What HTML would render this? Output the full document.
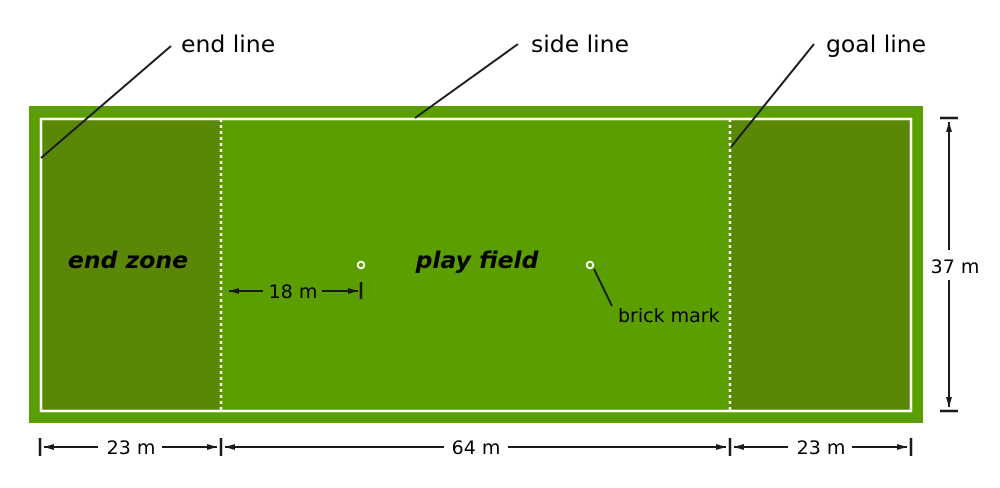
<!DOCTYPE html>
<html><head><style>html,body{margin:0;padding:0;background:#fff}</style></head>
<body>
<svg width="1000" height="483" viewBox="0 0 1000 483" xmlns="http://www.w3.org/2000/svg" font-family="DejaVu Sans, Liberation Sans, sans-serif">
<defs>
<marker id="a" viewBox="0 0 10 6" refX="10" refY="3" markerWidth="10" markerHeight="6" markerUnits="userSpaceOnUse" orient="auto"><path d="M0,0 L10,3 L0,6 z" fill="#1a1a1a"/></marker>
</defs>
<rect x="29" y="106" width="894" height="317" fill="#5a9e00"/>
<rect x="40" y="118" width="181" height="293" fill="#5a8705"/>
<rect x="730" y="118" width="181" height="293" fill="#5a8705"/>
<rect x="41" y="119" width="870" height="292" fill="none" stroke="#fff" stroke-width="2.5"/>
<line x1="221" y1="119" x2="221" y2="411" stroke="#fff" stroke-width="2.5" stroke-dasharray="3,3"/>
<line x1="730" y1="119" x2="730" y2="411" stroke="#fff" stroke-width="2.5" stroke-dasharray="3,3"/>
<circle cx="361" cy="265" r="3.2" fill="none" stroke="#fff" stroke-width="2"/>
<circle cx="590" cy="265" r="3.2" fill="none" stroke="#fff" stroke-width="2"/>
<g stroke="#1a1a1a" stroke-width="2" fill="none">
<line x1="171" y1="46" x2="41" y2="158"/>
<line x1="518" y1="44" x2="415" y2="118"/>
<line x1="814" y1="44" x2="731" y2="147"/>
<line x1="594" y1="269" x2="612" y2="306"/>
<line x1="263" y1="291" x2="229" y2="291" marker-end="url(#a)"/>
<line x1="322" y1="291" x2="358" y2="291" marker-end="url(#a)"/>
<line x1="361" y1="282" x2="361" y2="299" stroke-width="2.5"/>
<line x1="940" y1="118" x2="958" y2="118" stroke-width="2.5"/>
<line x1="940" y1="411" x2="958" y2="411" stroke-width="2.5"/>
<line x1="949" y1="250" x2="949" y2="122" marker-end="url(#a)"/>
<line x1="949" y1="280" x2="949" y2="407" marker-end="url(#a)"/>
<line x1="40" y1="438" x2="40" y2="456" stroke-width="2.5"/>
<line x1="221" y1="438" x2="221" y2="456" stroke-width="2.5"/>
<line x1="730" y1="438" x2="730" y2="456" stroke-width="2.5"/>
<line x1="911" y1="438" x2="911" y2="456" stroke-width="2.5"/>
<line x1="98" y1="447" x2="44" y2="447" marker-end="url(#a)"/>
<line x1="162" y1="447" x2="217" y2="447" marker-end="url(#a)"/>
<line x1="444" y1="447" x2="225" y2="447" marker-end="url(#a)"/>
<line x1="508" y1="447" x2="726" y2="447" marker-end="url(#a)"/>
<line x1="788" y1="447" x2="734" y2="447" marker-end="url(#a)"/>
<line x1="852" y1="447" x2="907" y2="447" marker-end="url(#a)"/>
</g>
<g fill="#000" font-size="23.5">
<text x="181" y="52">end line</text>
<text x="531" y="52">side line</text>
<text x="826" y="52">goal line</text>
</g>
<g fill="#000" font-size="23.5" font-weight="bold" font-style="italic" text-anchor="middle">
<text x="128" y="268">end zone</text>
<text x="477" y="268">play field</text>
</g>
<g fill="#000" font-size="19">
<text x="618" y="322">brick mark</text>
<text x="293" y="298" text-anchor="middle">18 m</text>
<text x="955" y="273" text-anchor="middle">37 m</text>
<text x="131" y="454" text-anchor="middle">23 m</text>
<text x="476" y="454" text-anchor="middle">64 m</text>
<text x="821" y="454" text-anchor="middle">23 m</text>
</g>
</svg>
</body></html>
